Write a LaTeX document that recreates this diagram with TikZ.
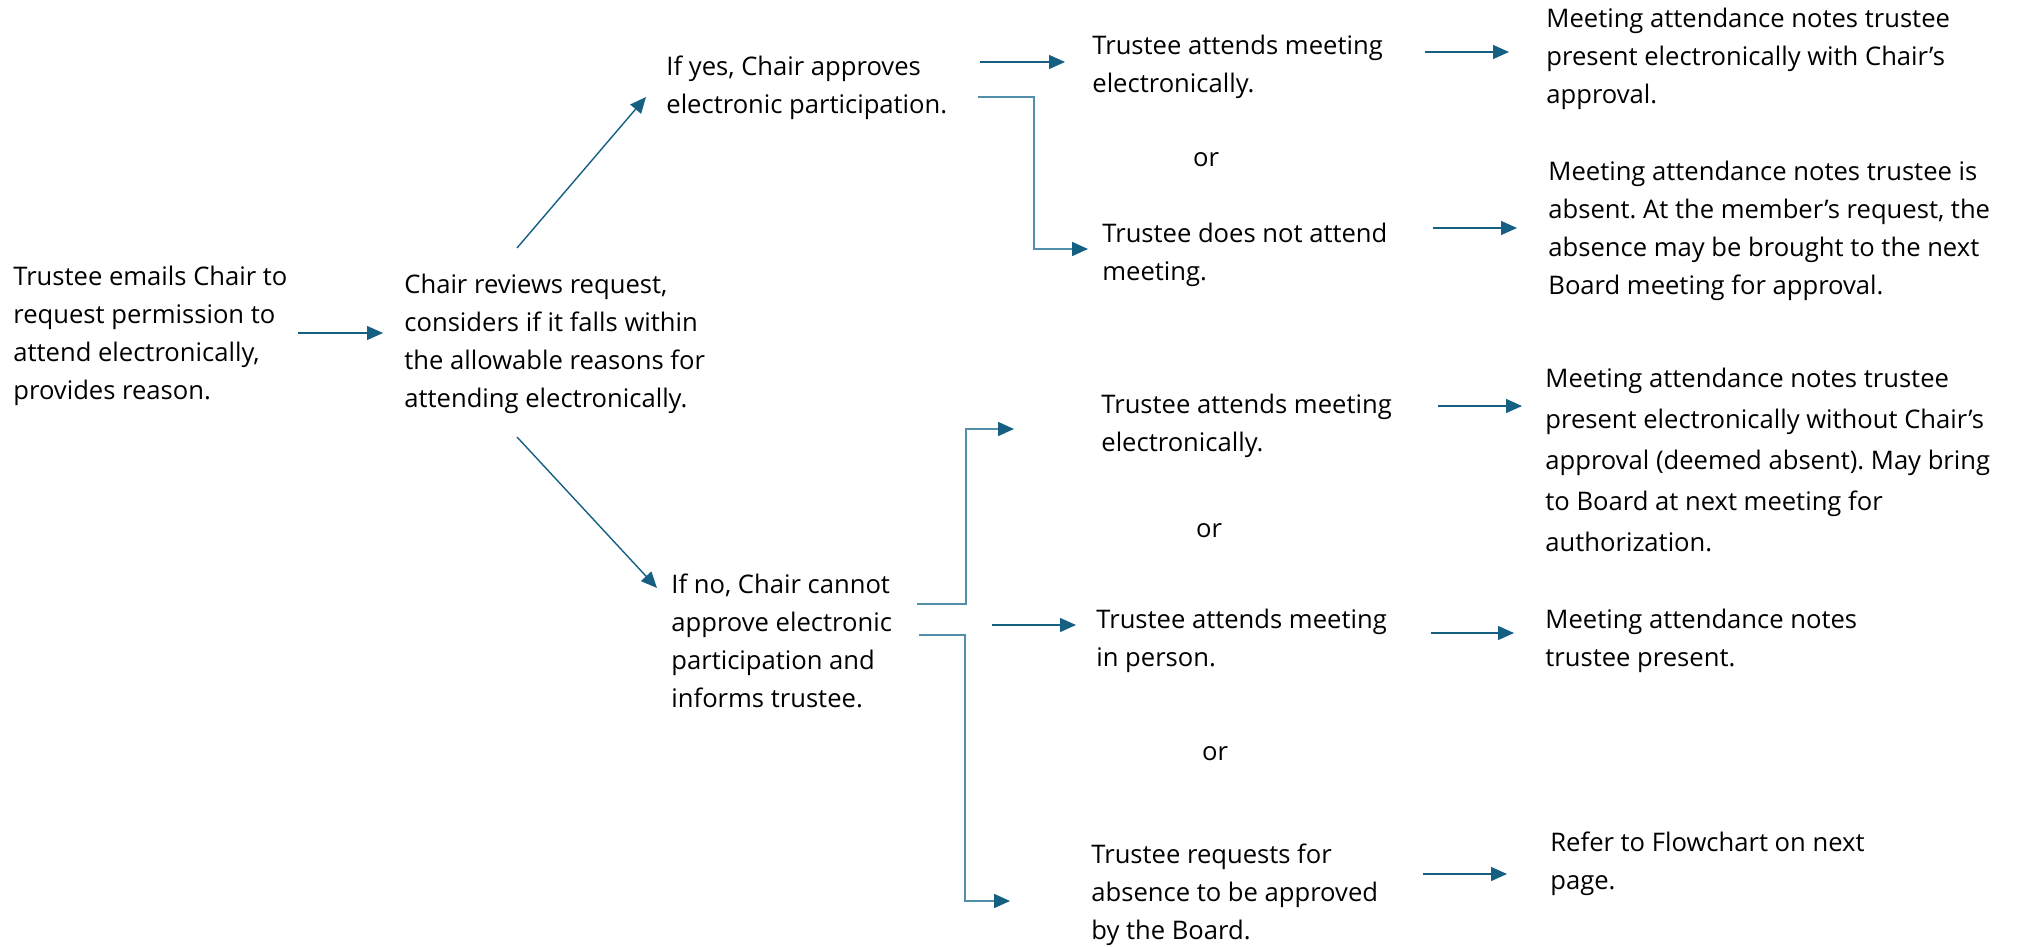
\documentclass[tikz,border=0pt]{standalone}
\usepackage{fontspec}
\setmainfont{Open Sans}
\frenchspacing
\usetikzlibrary{arrows.meta,calc}
\definecolor{arrblue}{HTML}{156082}
\definecolor{elbblue}{RGB}{84,143,170}
\begin{document}
\begin{tikzpicture}[x=0.5pt, y=-0.5pt,
    step text/.style={anchor=base west, inner sep=0pt, align=left,
      font=\fontsize{12.8}{19}\selectfont},
    or text/.style={anchor=base, inner sep=0pt, font=\fontsize{12.8}{19}\selectfont},
    arr/.style={-{Triangle[length=8pt, width=7pt]}, draw=arrblue, line width=0.7pt},
    elb/.style={-{Triangle[length=8pt, width=7pt, color=arrblue]}, draw=elbblue, line width=0.9pt}]
  \useasboundingbox (0,0) rectangle (2036,947);
  % First column (nodes sit on the baseline of their last line)
  \node[step text] (req) at (13,399) {Trustee emails Chair to\\request permission to\\attend electronically,\\provides reason.};
  \node[step text] (rev) at (404,407) {Chair reviews request,\\considers if it falls within\\the allowable reasons for\\attending electronically.};
  % Chair's decision
  \node[step text] (yes) at (666,114) {If yes, Chair approves\\electronic participation.};
  \node[step text] (no) at (671,707) {If no, Chair cannot\\approve electronic\\participation and\\informs trustee.};
  % Trustee options
  \node[step text] (ea) at (1092,93) {Trustee attends meeting\\electronically.};
  \node[or text] (or1) at (1206,167) {or};
  \node[step text] (na) at (1102,280) {Trustee does not attend\\meeting.};
  \node[step text] (eb) at (1101,451) {Trustee attends meeting\\electronically.};
  \node[or text] (or2) at (1209,537) {or};
  \node[step text] (ip) at (1096,666) {Trustee attends meeting\\in person.};
  \node[or text] (or3) at (1215,760) {or};
  \node[step text] (rb) at (1091,939) {Trustee requests for\\absence to be approved\\by the Board.};
  % Attendance notes
  \node[step text] (n1) at (1546,104) {Meeting attendance notes trustee\\present electronically with Chair’s\\approval.};
  \node[step text] (n2) at (1548,294) {Meeting attendance notes trustee is\\absent. At the member’s request, the\\absence may be brought to the next\\Board meeting for approval.};
  \node[step text, font=\fontsize{12.8}{20.5}\selectfont] (n3) at (1545,551) {Meeting attendance notes trustee\\present electronically without Chair’s\\approval (deemed absent). May bring\\to Board at next meeting for\\authorization.};
  \node[step text] (n4) at (1545,666) {Meeting attendance notes\\trustee present.};
  \node[step text] (n5) at (1550,889) {Refer to Flowchart on next\\page.};
  % Connectors
  \draw[arr] ($(req.base west)+(285,-66)$) -- ($(rev.base west)+(-21,-74)$);
  \draw[arr] ($(rev.base west)+(113,-159)$) -- ($(yes.base west)+(-20,-17)$);
  \draw[arr] ($(rev.base west)+(113,30)$) -- ($(no.base west)+(-14,-119)$);
  \draw[arr] ($(yes.base west)+(314,-52)$) -- ($(ea.base west)+(-27,-31)$);
  \draw[elb] ($(yes.base west)+(312,-17)$) -- ++(56,0) |- ($(na.base west)+(-14,-31)$);
  \draw[arr] ($(ea.base west)+(333,-41)$) -- ($(n1.base west)+(-37,-52)$);
  \draw[arr] ($(na.base west)+(331,-52)$) -- ($(n2.base west)+(-31,-66)$);
  \draw[elb] ($(no.base west)+(246,-103)$) -- ++(49,0) |- ($(eb.base west)+(-87,-22)$);
  \draw[arr] ($(no.base west)+(321,-82)$) -- ($(ip.base west)+(-20,-41)$);
  \draw[elb] ($(no.base west)+(248,-72)$) -- ++(46,0) |- ($(rb.base west)+(-81,-38)$);
  \draw[arr] ($(eb.base west)+(337,-45)$) -- ($(n3.base west)+(-23,-145)$);
  \draw[arr] ($(ip.base west)+(335,-33)$) -- ($(n4.base west)+(-31,-33)$);
  \draw[arr] ($(rb.base west)+(332,-65)$) -- ($(n5.base west)+(-43,-15)$);
\end{tikzpicture}
\end{document}
